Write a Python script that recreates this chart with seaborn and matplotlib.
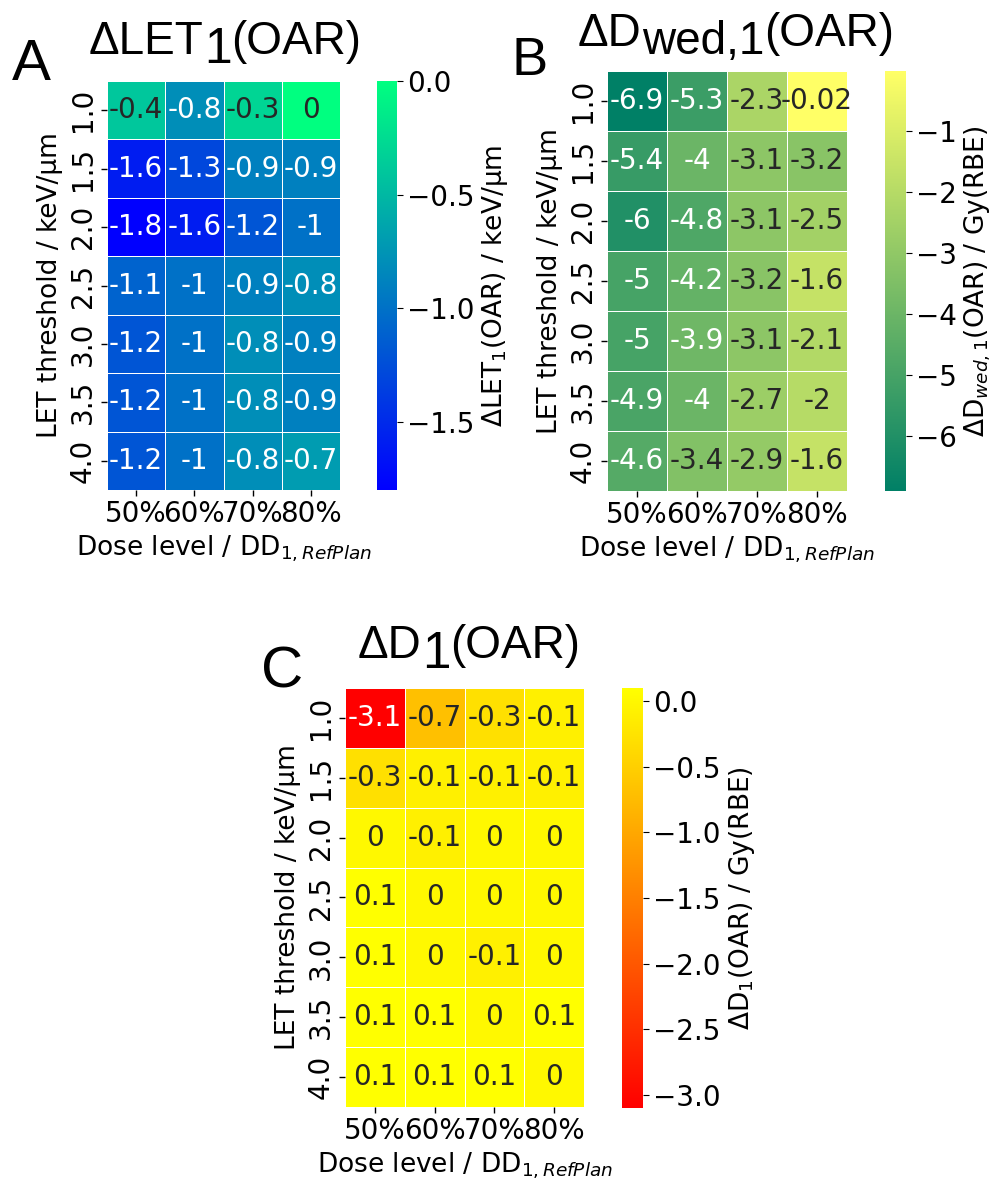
import numpy as np
import pandas as pd
import matplotlib
matplotlib.use("Agg")
import matplotlib.pyplot as plt
from matplotlib.ticker import MultipleLocator
import seaborn as sns

# ---------------- data ----------------
dose_levels = ["50%", "60%", "70%", "80%"]
let_thresholds = ["1.0", "1.5", "2.0", "2.5", "3.0", "3.5", "4.0"]

delta_let = [
    [-0.4, -0.8, -0.3, 0.0],
    [-1.6, -1.3, -0.9, -0.9],
    [-1.8, -1.6, -1.2, -1.0],
    [-1.1, -1.0, -0.9, -0.8],
    [-1.2, -1.0, -0.8, -0.9],
    [-1.2, -1.0, -0.8, -0.9],
    [-1.2, -1.0, -0.8, -0.7],
]
delta_dwed = [
    [-6.9, -5.3, -2.3, -0.02],
    [-5.4, -4.0, -3.1, -3.2],
    [-6.0, -4.8, -3.1, -2.5],
    [-5.0, -4.2, -3.2, -1.6],
    [-5.0, -3.9, -3.1, -2.1],
    [-4.9, -4.0, -2.7, -2.0],
    [-4.6, -3.4, -2.9, -1.6],
]
delta_d = [
    [-3.1, -0.7, -0.3, -0.1],
    [-0.3, -0.1, -0.1, -0.1],
    [0.0, -0.1, 0.0, 0.0],
    [0.1, 0.0, 0.0, 0.0],
    [0.1, 0.0, -0.1, 0.0],
    [0.1, 0.1, 0.0, 0.1],
    [0.1, 0.1, 0.1, 0.0],
]

W, H = 993, 1186
fig = plt.figure(figsize=(W / 100, H / 100), dpi=100)
renderer = fig.canvas.get_renderer()

TICK = 20
ANNOT = 20
LABEL = 19


def box(x0, y0, x1, y1):
    return [x0 / W, 1 - y1 / H, (x1 - x0) / W, (y1 - y0) / H]


def panel(data, cmap, axbox, cbox, cbar_label, step):
    df = pd.DataFrame(data, index=let_thresholds, columns=dose_levels)
    ax = fig.add_axes(box(*axbox))
    cax = fig.add_axes(box(*cbox))
    sns.heatmap(df, ax=ax, cbar_ax=cax, cmap=cmap, annot=True, fmt="g",
                annot_kws={"fontsize": ANNOT}, linewidths=0.5, linecolor="white",
                cbar_kws={"label": cbar_label})
    ax.set_xticklabels(dose_levels, rotation=0, fontsize=TICK)
    ax.set_yticklabels(let_thresholds, rotation=90, va="center", fontsize=TICK)
    ax.tick_params(axis="both", length=4, width=1)
    ax.set_xlabel(r"Dose level / DD$_{1,RefPlan}$", fontsize=LABEL)
    ax.set_ylabel("LET threshold / keV/μm", fontsize=LABEL)
    cax.yaxis.set_major_locator(MultipleLocator(step))
    cax.tick_params(labelsize=TICK, length=4)
    cax.yaxis.label.set_size(LABEL)
    return ax


def rich(x, y, parts, family="Liberation Sans"):
    # parts: (text, fontsize, baseline offset in px, positive = lower)
    cx = x
    for s, size, dy in parts:
        t = fig.text(cx / W, 1 - (y + dy) / H, s, fontsize=size,
                     family=family, ha="left", va="baseline")
        bb = t.get_window_extent(renderer=renderer)
        cx += bb.width


panel(delta_let, "winter", (107, 81, 340, 490), (377, 81, 397, 490),
      r"$\Delta$LET$_1$(OAR) / keV/μm", 0.5)
panel(delta_dwed, "summer", (607, 71, 847, 491), (885, 71, 906, 491),
      r"$\Delta$D$_{wed,1}$(OAR) / Gy(RBE)", 1)
panel(delta_d, "autumn", (345, 688, 584, 1107), (622, 688, 643, 1108),
      r"$\Delta$D$_1$(OAR) / Gy(RBE)", 0.5)

# titles
rich(89, 54, [("ΔLET", 33, 0), ("1", 36, 9), ("(OAR)", 33, 0)])
rich(578, 46, [("ΔD", 33, 0), ("wed,1", 33, 8), ("(OAR)", 33, 0)])
rich(358, 658, [("ΔD", 33, 0), ("1", 37, 10), ("(OAR)", 33, 0)])

# panel letters
fig.text(12 / W, 1 - 80 / H, "A", fontsize=42, family="Liberation Sans", va="baseline")
fig.text(511 / W, 1 - 75 / H, "B", fontsize=39, family="Liberation Sans", va="baseline")
fig.text(261 / W, 1 - 688 / H, "C", fontsize=42, family="Liberation Sans", va="baseline")

fig.savefig("out.png", dpi=100)
